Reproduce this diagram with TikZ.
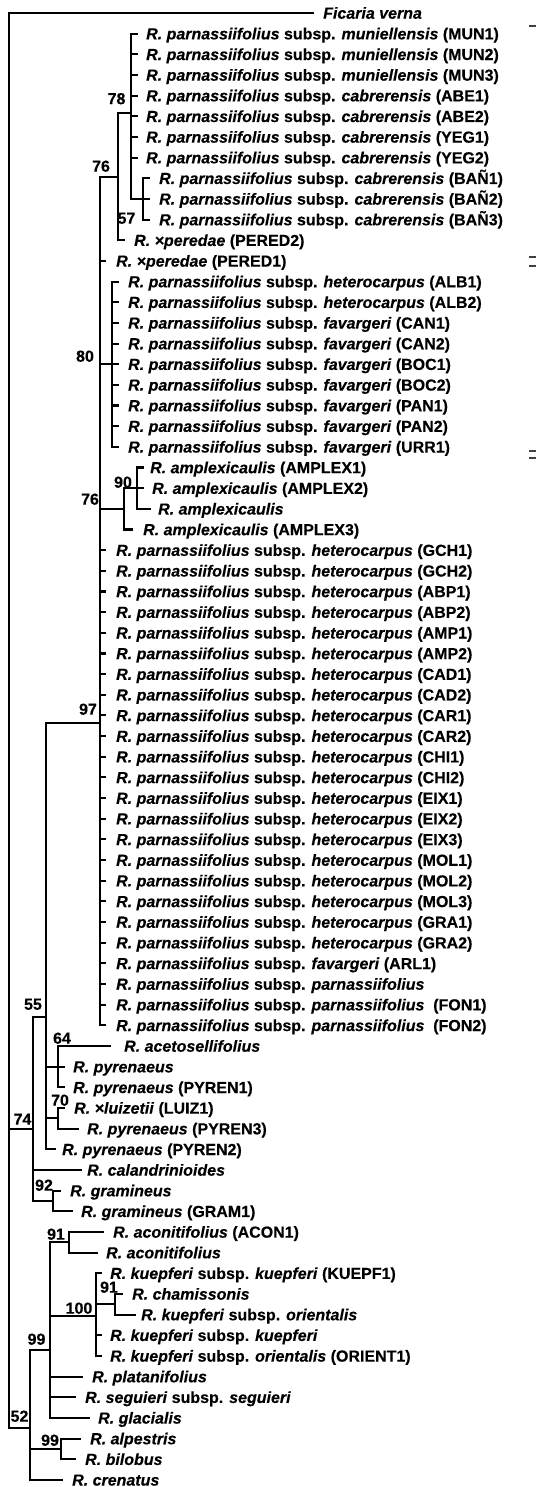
\documentclass[tikz,border=0pt]{standalone}
\usepackage{fontspec}
\setmainfont{Liberation Sans}[BoldFeatures={FakeBold=0.3},BoldItalicFeatures={FakeBold=0.3}]
\newcommand\labfont{\fontsize{16}{18}\selectfont\bfseries}
\tikzset{
  br/.style={line width=2.1pt, line cap=rect},
  edgetick/.style={line width=1.3pt, color=black!75},
  leaf/.style={anchor=west, inner sep=0pt, text height=11.4pt, text depth=0pt, font=\labfont},
  bs/.style={inner sep=0pt, text height=11.4pt, text depth=0pt, font=\labfont},
}
\newcommand\leafnode[6]{%
  \pgfmathsetmacro\yy{13+20.66*#2}%
  \coordinate (t#1) at (#4,\yy);%
  \node[leaf] (#1) at (#5,\yy) {#6};%
  \draw[br] (#3 |- t#1) -- (t#1);%
}
\newcommand\Rp{\textit{R. parnassiifolius} subsp. }
\begin{document}
\begin{tikzpicture}[x=1pt,y=-1pt]
\useasboundingbox (0,0) rectangle (536,1487);
% internal nodes
\coordinate (root) at (9,13);
\coordinate (n74) at (33,1129);
\coordinate (n55) at (46,1017);
\coordinate (n97) at (100,723);
\coordinate (n76a) at (118,177);
\coordinate (n78) at (131,113);
\coordinate (n57) at (143,198.9);
\coordinate (n80) at (112,364.2);
\coordinate (n76b) at (124,508.8);
\coordinate (n90) at (137,488.2);
\coordinate (n64) at (58,1066.66);
\coordinate (n70) at (58,1118);
\coordinate (n92) at (53,1201);
\coordinate (n52) at (30,1428);
\coordinate (n99a) at (50,1350);
\coordinate (n91a) at (69,1242);
\coordinate (n100) at (96,1316);
\coordinate (n91b) at (115,1304);
\coordinate (n99b) at (61,1449);
% leaves
\leafnode{fic}{0}{root}{313}{323}{\textit{Ficaria verna}}
\leafnode{mun1}{1}{n78}{137}{146}{\Rp\textit{muniellensis} (MUN1)}
\leafnode{mun2}{2}{n78}{137}{146}{\Rp\textit{muniellensis} (MUN2)}
\leafnode{mun3}{3}{n78}{137}{146}{\Rp\textit{muniellensis} (MUN3)}
\leafnode{abe1}{4}{n78}{137}{146}{\Rp\textit{cabrerensis} (ABE1)}
\leafnode{abe2}{5}{n78}{137}{146}{\Rp\textit{cabrerensis} (ABE2)}
\leafnode{yeg1}{6}{n78}{137}{146}{\Rp\textit{cabrerensis} (YEG1)}
\leafnode{yeg2}{7}{n78}{137}{146}{\Rp\textit{cabrerensis} (YEG2)}
\leafnode{ban1}{8}{n57}{149}{159}{\Rp\textit{cabrerensis} (BAÑ1)}
\leafnode{ban2}{9}{n57}{149}{159}{\Rp\textit{cabrerensis} (BAÑ2)}
\leafnode{ban3}{10}{n57}{149}{159}{\Rp\textit{cabrerensis} (BAÑ3)}
\leafnode{pered2}{11}{n76a}{124}{134}{\textit{R. ×peredae} (PERED2)}
\leafnode{pered1}{12}{n97}{105}{116}{\textit{R. ×peredae} (PERED1)}
\leafnode{alb1}{13}{n80}{118}{128}{\Rp\textit{heterocarpus} (ALB1)}
\leafnode{alb2}{14}{n80}{118}{128}{\Rp\textit{heterocarpus} (ALB2)}
\leafnode{can1}{15}{n80}{118}{128}{\Rp\textit{favargeri} (CAN1)}
\leafnode{can2}{16}{n80}{118}{128}{\Rp\textit{favargeri} (CAN2)}
\leafnode{boc1}{17}{n80}{118}{128}{\Rp\textit{favargeri} (BOC1)}
\leafnode{boc2}{18}{n80}{118}{128}{\Rp\textit{favargeri} (BOC2)}
\leafnode{pan1}{19}{n80}{118}{128}{\Rp\textit{favargeri} (PAN1)}
\leafnode{pan2}{20}{n80}{118}{128}{\Rp\textit{favargeri} (PAN2)}
\leafnode{urr1}{21}{n80}{118}{128}{\Rp\textit{favargeri} (URR1)}
\leafnode{amplex1}{22}{n90}{143}{150}{\textit{R. amplexicaulis} (AMPLEX1)}
\leafnode{amplex2}{23}{n90}{143}{152}{\textit{R. amplexicaulis} (AMPLEX2)}
\leafnode{ampl}{24}{n90}{150}{158}{\textit{R. amplexicaulis}}
\leafnode{amplex3}{25}{n76b}{132}{143}{\textit{R. amplexicaulis} (AMPLEX3)}
\leafnode{gch1}{26}{n97}{105}{116}{\Rp\textit{heterocarpus} (GCH1)}
\leafnode{gch2}{27}{n97}{105}{116}{\Rp\textit{heterocarpus} (GCH2)}
\leafnode{abp1}{28}{n97}{105}{116}{\Rp\textit{heterocarpus} (ABP1)}
\leafnode{abp2}{29}{n97}{105}{116}{\Rp\textit{heterocarpus} (ABP2)}
\leafnode{amp1}{30}{n97}{105}{116}{\Rp\textit{heterocarpus} (AMP1)}
\leafnode{amp2}{31}{n97}{105}{116}{\Rp\textit{heterocarpus} (AMP2)}
\leafnode{cad1}{32}{n97}{105}{116}{\Rp\textit{heterocarpus} (CAD1)}
\leafnode{cad2}{33}{n97}{105}{116}{\Rp\textit{heterocarpus} (CAD2)}
\leafnode{car1}{34}{n97}{105}{116}{\Rp\textit{heterocarpus} (CAR1)}
\leafnode{car2}{35}{n97}{105}{116}{\Rp\textit{heterocarpus} (CAR2)}
\leafnode{chi1}{36}{n97}{105}{116}{\Rp\textit{heterocarpus} (CHI1)}
\leafnode{chi2}{37}{n97}{105}{116}{\Rp\textit{heterocarpus} (CHI2)}
\leafnode{eix1}{38}{n97}{105}{116}{\Rp\textit{heterocarpus} (EIX1)}
\leafnode{eix2}{39}{n97}{105}{116}{\Rp\textit{heterocarpus} (EIX2)}
\leafnode{eix3}{40}{n97}{105}{116}{\Rp\textit{heterocarpus} (EIX3)}
\leafnode{mol1}{41}{n97}{105}{116}{\Rp\textit{heterocarpus} (MOL1)}
\leafnode{mol2}{42}{n97}{105}{116}{\Rp\textit{heterocarpus} (MOL2)}
\leafnode{mol3}{43}{n97}{105}{116}{\Rp\textit{heterocarpus} (MOL3)}
\leafnode{gra1}{44}{n97}{105}{116}{\Rp\textit{heterocarpus} (GRA1)}
\leafnode{gra2}{45}{n97}{105}{116}{\Rp\textit{heterocarpus} (GRA2)}
\leafnode{arl1}{46}{n97}{105}{116}{\Rp\textit{favargeri} (ARL1)}
\leafnode{parn}{47}{n97}{105}{116}{\Rp\textit{parnassiifolius}}
\leafnode{fon1}{48}{n97}{105}{116}{\Rp\textit{parnassiifolius}\hspace{0.55em}(FON1)}
\leafnode{fon2}{49}{n97}{105}{116}{\Rp\textit{parnassiifolius}\hspace{0.55em}(FON2)}
\leafnode{aceto}{50}{n64}{110}{124}{\textit{R. acetosellifolius}}
\leafnode{pyr}{51}{n64}{64}{73}{\textit{R. pyrenaeus}}
\leafnode{pyren1}{52}{n64}{64}{73}{\textit{R. pyrenaeus} (PYREN1)}
\leafnode{luiz}{53}{n70}{64}{74}{\textit{R. ×luizetii} (LUIZ1)}
\leafnode{pyren3}{54}{n70}{78}{87}{\textit{R. pyrenaeus} (PYREN3)}
\leafnode{pyren2}{55}{n55}{55}{62}{\textit{R. pyrenaeus} (PYREN2)}
\leafnode{calan}{56}{n74}{81}{87}{\textit{R. calandrinioides}}
\leafnode{gram}{57}{n92}{60}{70}{\textit{R. gramineus}}
\leafnode{gram1}{58}{n92}{72}{81}{\textit{R. gramineus} (GRAM1)}
\leafnode{acon1}{59}{n91a}{103}{113}{\textit{R. aconitifolius} (ACON1)}
\leafnode{aconit}{60}{n91a}{97}{106}{\textit{R. aconitifolius}}
\leafnode{kuepf1}{61}{n100}{101}{110}{\textit{R. kuepferi} subsp. \textit{kuepferi} (KUEPF1)}
\leafnode{cham}{62}{n91b}{122}{132}{\textit{R. chamissonis}}
\leafnode{orient}{63}{n91b}{135}{141}{\textit{R. kuepferi} subsp. \textit{orientalis}}
\leafnode{kuepf}{64}{n100}{101}{110}{\textit{R. kuepferi} subsp. \textit{kuepferi}}
\leafnode{orient1}{65}{n100}{101}{110}{\textit{R. kuepferi} subsp. \textit{orientalis} (ORIENT1)}
\leafnode{platan}{66}{n99a}{82}{92}{\textit{R. platanifolius}}
\leafnode{seg}{67}{n99a}{75}{85}{\textit{R. seguieri} subsp. \textit{seguieri}}
\leafnode{glac}{68}{n99a}{89}{98}{\textit{R. glacialis}}
\leafnode{alp}{69}{n99b}{80}{90}{\textit{R. alpestris}}
\leafnode{bil}{70}{n99b}{75}{85}{\textit{R. bilobus}}
\leafnode{cren}{71}{n52}{62}{72}{\textit{R. crenatus}}
% horizontal branches to internal nodes
\draw[br] (root |- n74) -- (n74);
\draw[br] (root |- n52) -- (n52);
\draw[br] (n74 |- n55) -- (n55);
\draw[br] (n74 |- n92) -- (n92);
\draw[br] (n55 |- n97) -- (n97);
\draw[br] (n55 |- n64) -- (n64);
\draw[br] (n55 |- n70) -- (n70);
\draw[br] (n97 |- n76a) -- (n76a);
\draw[br] (n97 |- n80) -- (n80);
\draw[br] (n97 |- n76b) -- (n76b);
\draw[br] (n76a |- n78) -- (n78);
\draw[br] (n78 |- n57) -- (n57);
\draw[br] (n76b |- n90) -- (n90);
\draw[br] (n52 |- n99a) -- (n99a);
\draw[br] (n52 |- n99b) -- (n99b);
\draw[br] (n99a |- n91a) -- (n91a);
\draw[br] (n99a |- n100) -- (n100);
\draw[br] (n100 |- n91b) -- (n91b);
% vertical lines
\draw[br] (root |- tfic) -- (root |- n52);
\draw[br] (n74 |- n55) -- (n74 |- n92);
\draw[br] (n55 |- n97) -- (n55 |- tpyren2);
\draw[br] (n97 |- n76a) -- (n97 |- tfon2);
\draw[br] (n76a |- n78) -- (n76a |- tpered2);
\draw[br] (n78 |- tmun1) -- (n78 |- n57);
\draw[br] (n57 |- tban1) -- (n57 |- tban3);
\draw[br] (n80 |- talb1) -- (n80 |- turr1);
\draw[br] (n76b |- n90) -- (n76b |- tamplex3);
\draw[br] (n90 |- tamplex1) -- (n90 |- tampl);
\draw[br] (n64 |- taceto) -- (n64 |- tpyren1);
\draw[br] (n70 |- tluiz) -- (n70 |- tpyren3);
\draw[br] (n92 |- tgram) -- (n92 |- tgram1);
\draw[br] (n52 |- n99a) -- (n52 |- tcren);
\draw[br] (n99a |- n91a) -- (n99a |- tglac);
\draw[br] (n91a |- tacon1) -- (n91a |- taconit);
\draw[br] (n100 |- tkuepf1) -- (n100 |- torient1);
\draw[br] (n91b |- tcham) -- (n91b |- torient);
\draw[br] (n99b |- talp) -- (n99b |- tbil);
% bootstrap values
\node[bs] (b78) at (116.5,98.5) {78};
\node[bs] (b76a) at (101,166) {76};
\node[bs] (b57) at (126.5,218) {57};
\node[bs] (b80) at (85,356) {80};
\node[bs] (b90) at (123,482) {90};
\node[bs] (b76b) at (90,499) {76};
\node[bs] (b97) at (88,709) {97};
\node[bs] (b55) at (33,1004) {55};
\node[bs] (b64) at (62,1038) {64};
\node[bs] (b70) at (60,1100) {70};
\node[bs] (b74) at (22.5,1119) {74};
\node[bs] (b92) at (44,1185) {92};
\node[bs] (b91a) at (56,1234) {91};
\node[bs] (b91b) at (109,1287) {91};
\node[bs] (b100) at (79,1308) {100};
\node[bs] (b99a) at (36.5,1339) {99};
\node[bs] (b52) at (19.5,1416) {52};
\node[bs] (b99b) at (50,1440) {99};
% cropped marks at the right edge
\coordinate (e1a) at (529,26); \coordinate (e1b) at (536,26);
\coordinate (e2a) at (529,257); \coordinate (e2b) at (536,257);
\coordinate (e3a) at (529,266); \coordinate (e3b) at (536,266);
\coordinate (e4a) at (529,451); \coordinate (e4b) at (536,451);
\coordinate (e5a) at (529,458); \coordinate (e5b) at (536,458);
\draw[edgetick] (e1a) -- (e1b);
\draw[edgetick] (e2a) -- (e2b);
\draw[edgetick] (e3a) -- (e3b);
\draw[edgetick] (e4a) -- (e4b);
\draw[edgetick] (e5a) -- (e5b);
\end{tikzpicture}
\end{document}
